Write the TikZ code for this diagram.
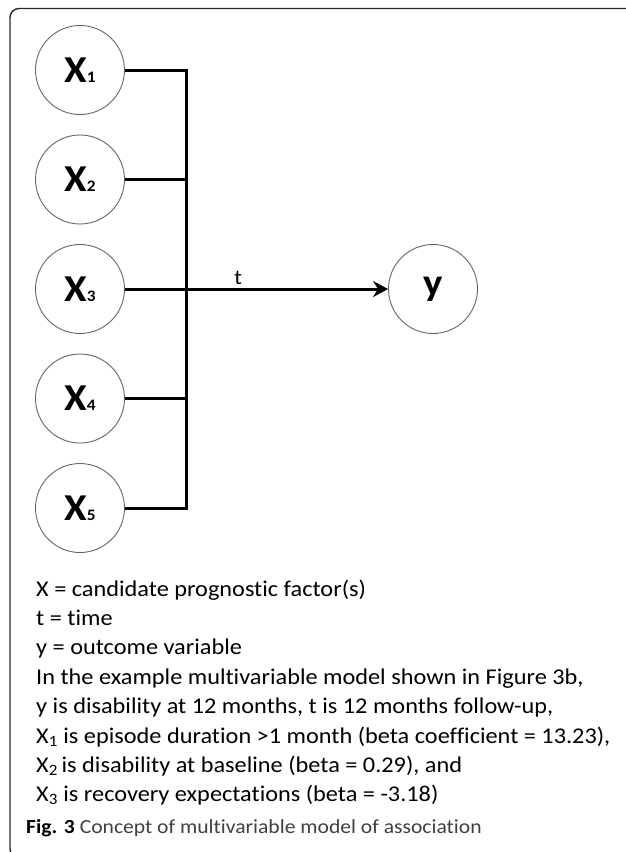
\documentclass[tikz,border=0pt]{standalone}
\usepackage{fontspec}
\setmainfont{Carlito}[Ligatures=CommonOff,FakeStretch=1.08]
\usetikzlibrary{arrows.meta}

\tikzset{
  factor/.style={circle,draw=black!60,line width=0.9pt,minimum size=89pt,inner sep=0pt,
    font=\fontsize{38}{38}\selectfont\bfseries},
  wire/.style={line width=3pt},
  legendline/.style={anchor=base west,inner sep=0pt,font=\fontsize{22.5}{22.5}\selectfont},
}
\newcommand{\fidx}[1]{{\fontsize{16}{16}\selectfont #1}}

\begin{document}
\begin{tikzpicture}[x=1pt,y=-1pt,join=miter] % Factors X1..X5 into outcome y
        \useasboundingbox (0,0) rectangle (625,852);
        \draw[black!85,line width=1.4pt,rounded corners=9pt] (627,8.5) -- (10,8.5) -- (10,858) -- (30,858);
        % candidate factors and outcome
        \foreach \i in {1,...,5}
                \node[factor] (x\i) at (80,{70+109.5*(\i-1)}) {X\fidx{\i}};
        \node[factor] (y) at (433,289) {y};
        \coordinate (bus) at (186,0);
        % collecting bar
        \draw[wire] (x1) -- (x1 -| bus) -- (x5 -| bus) -- (x5);
        \draw[wire] (x2) -- (x2 -| bus);
        \draw[wire] (x4) -- (x4 -| bus);
        \draw[wire,-{Stealth[length=15pt,width=16pt,inset=5pt]}] (x3) --
                node[above,pos=0.43,font=\fontsize{21}{21}\selectfont] (tlab) {t} (y);
        % key
        \foreach \txt [count=\n] in {{X = candidate prognostic factor(s)},
                        {t = time},
                        {y = outcome variable},
                        {In the example multivariable model shown in Figure 3b,},
                        {y is disability at 12 months, t is 12 months follow-up,},
                        {X\textsubscript{1} is episode duration >1 month (beta coefficient = 13.23),},
                        {X\textsubscript{2}\,is disability at baseline (beta = 0.29), and},
                        {X\textsubscript{3} is recovery expectations (beta = -3.18)}}
                \node[legendline] (key\n) at (36,{596+29.4*(\n-1)}) {\txt};
        \node[legendline,font=\fontsize{20}{20}\selectfont] (caption) at (26,833)
                {\textbf{Fig. 3} {\color{black!75}Concept of multivariable model of association}};
\end{tikzpicture}
\end{document}
